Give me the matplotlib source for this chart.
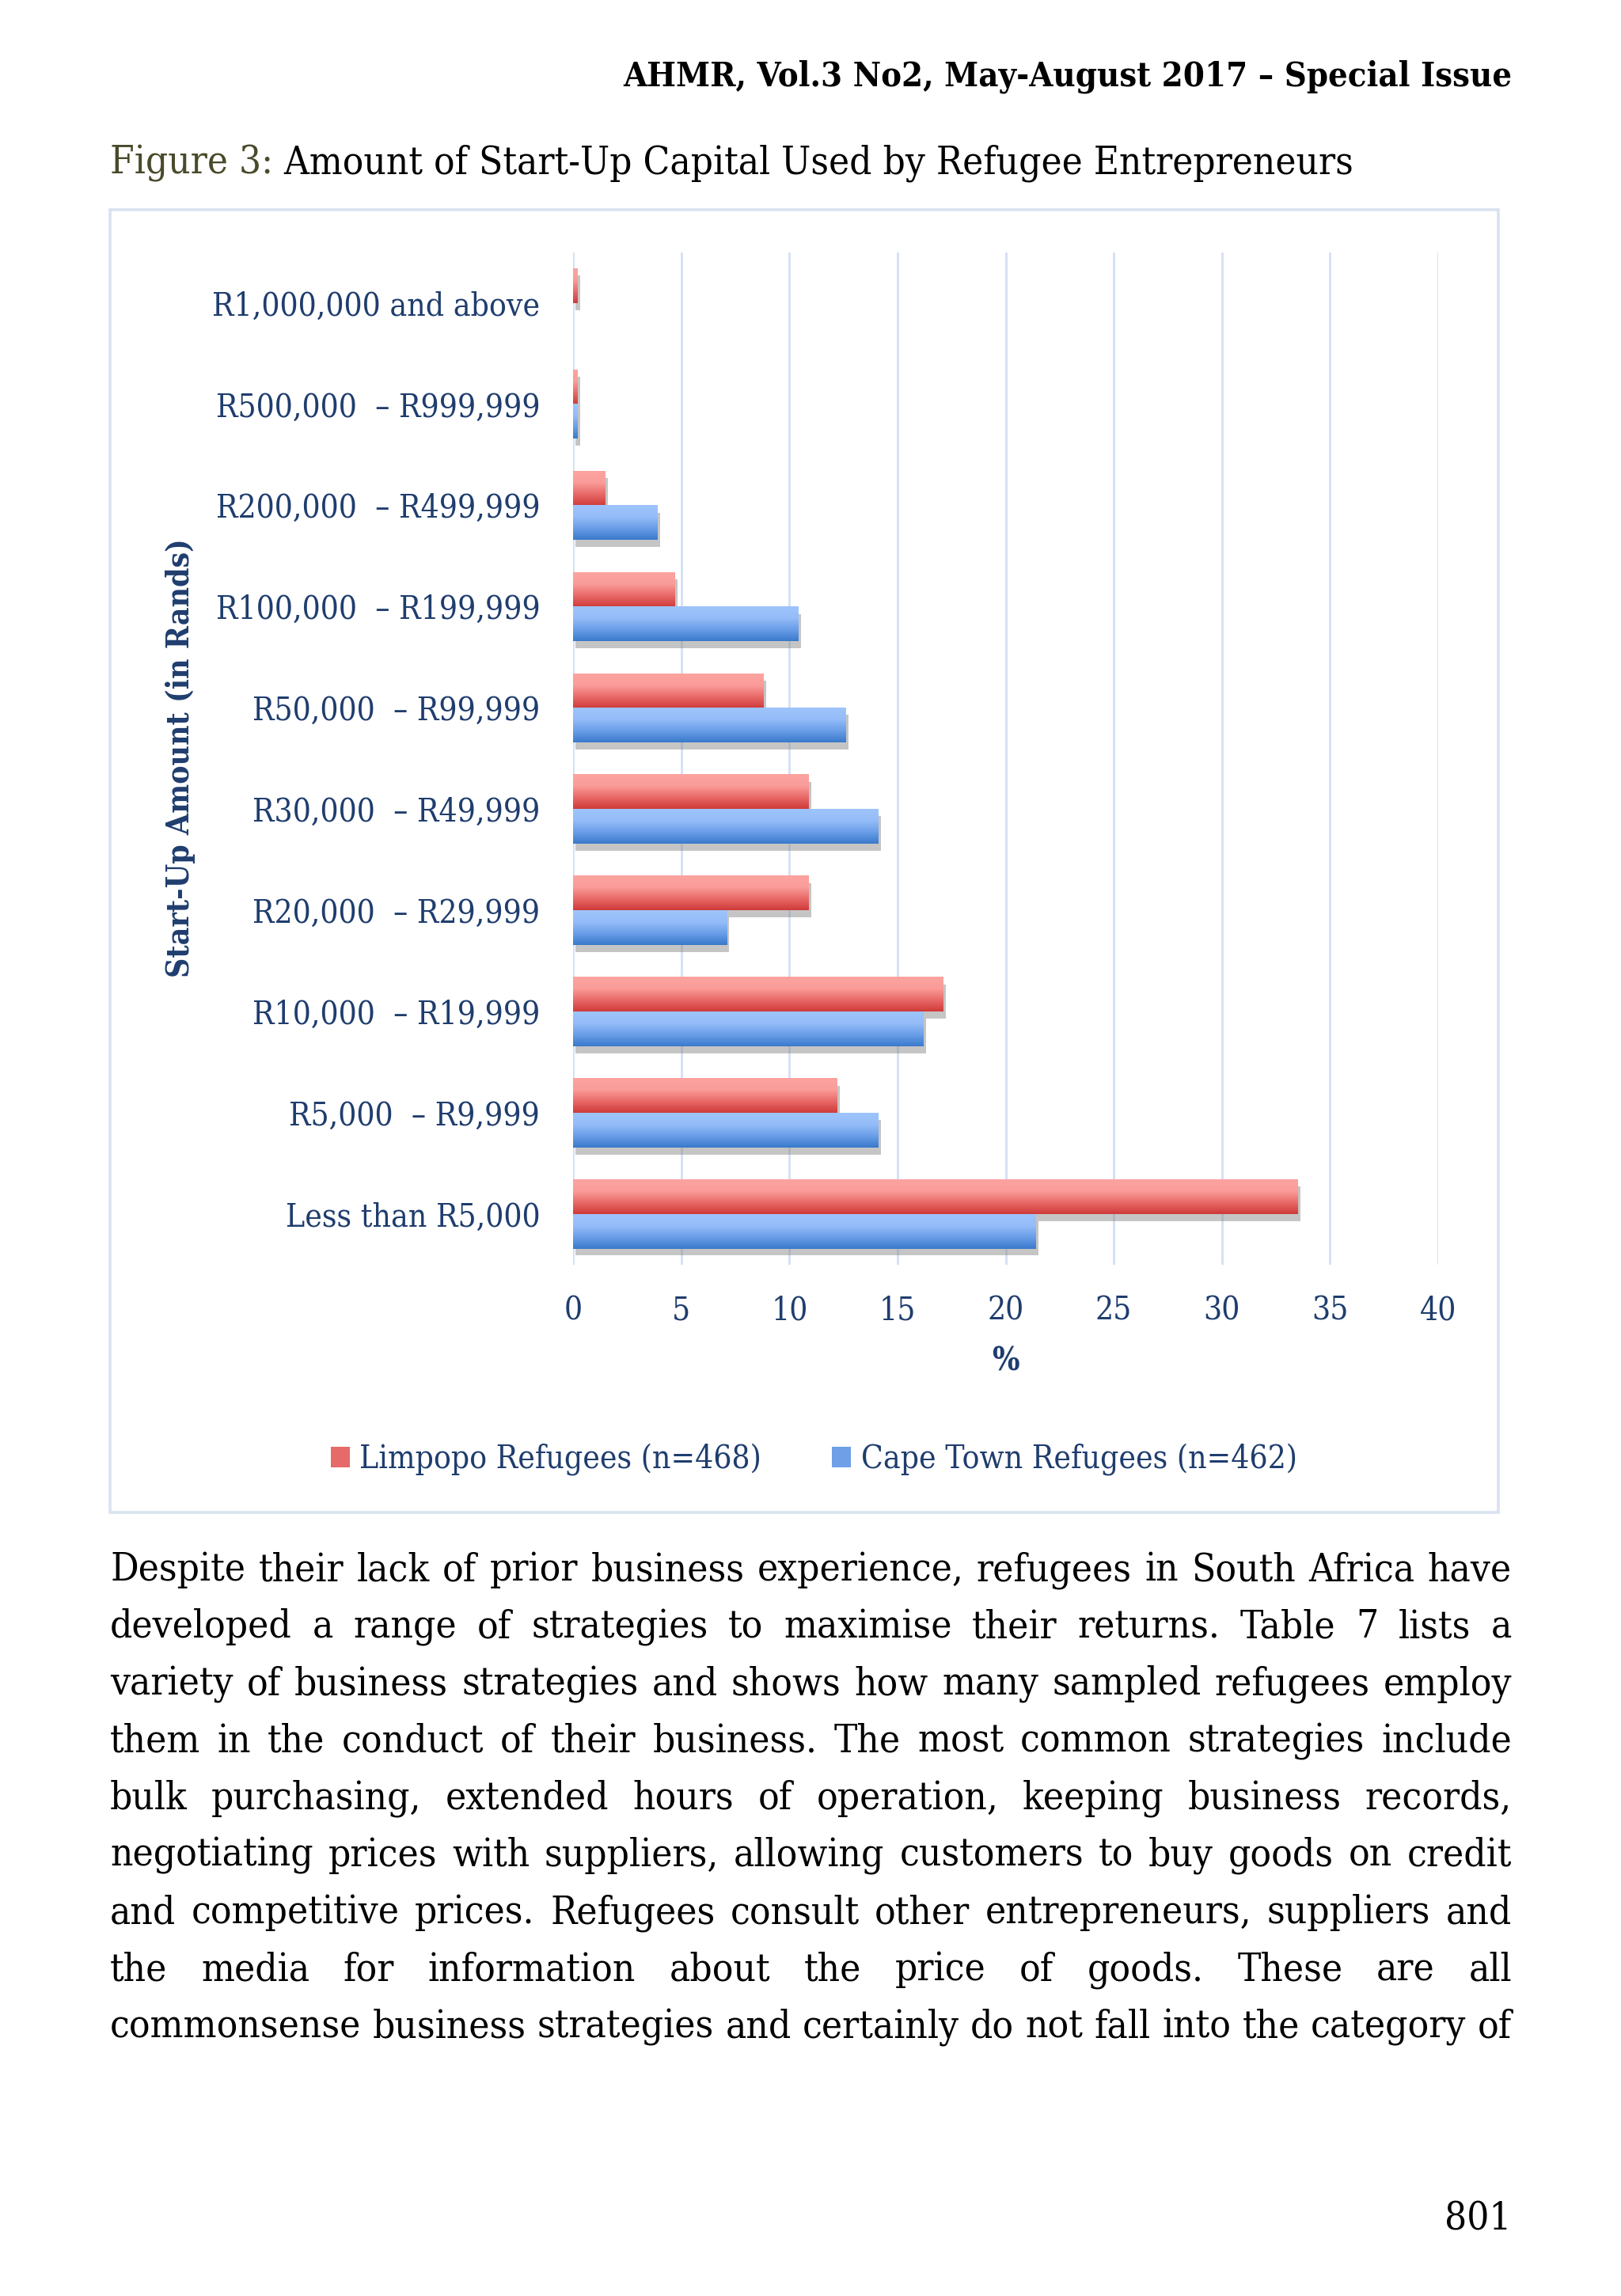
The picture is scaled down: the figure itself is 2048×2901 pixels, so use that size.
import numpy as np
import matplotlib
matplotlib.use("Agg")
import matplotlib.pyplot as plt
from matplotlib import patches
from matplotlib import patheffects as pe
from matplotlib.colors import LinearSegmentedColormap

# data, bottom category first
categories = ["Less than R5,000", "R5,000  – R9,999", "R10,000  – R19,999",
              "R20,000  – R29,999", "R30,000  – R49,999", "R50,000  – R99,999",
              "R100,000  – R199,999", "R200,000  – R499,999",
              "R500,000  – R999,999", "R1,000,000 and above"]
limpopo = [33.5, 12.2, 17.1, 10.9, 10.9, 8.8, 4.7, 1.5, 0.2, 0.2]
cape_town = [21.4, 14.1, 16.2, 7.1, 14.1, 12.6, 10.4, 3.9, 0.2, 0.0]
series_names = ["Limpopo Refugees (n=468)", "Cape Town Refugees (n=462)"]
x_ticks = [0, 5, 10, 15, 20, 25, 30, 35, 40]

header = "AHMR, Vol.3 No2, May-August 2017 – Special Issue"
caption_a = "Figure 3:"
caption_b = " Amount of Start-Up Capital Used by Refugee Entrepreneurs"
body = [
    "Despite their lack of prior business experience, refugees in South Africa have",
    "developed a range of strategies to maximise their returns. Table 7 lists a",
    "variety of business strategies and shows how many sampled refugees employ",
    "them in the conduct of their business. The most common strategies include",
    "bulk purchasing, extended hours of operation, keeping business records,",
    "negotiating prices with suppliers, allowing customers to buy goods on credit",
    "and competitive prices.  Refugees consult other entrepreneurs, suppliers and",
    "the media for information about the price of goods. These are all",
    "commonsense business strategies and certainly do not fall into the category of",
]
page_no = "801"

W, H = 2048, 2901
NAVY = "#1f3d6e"

plt.rcParams['font.family'] = "DejaVu Serif"
plt.rcParams['font.stretch'] = "condensed"
fig = plt.figure(figsize=(W / 200, H / 200), dpi=200)
fig.patch.set_facecolor("white")
rend = fig.canvas.get_renderer()


def fx(px):
    return px / W


def fy(py):
    return 1 - py / H


def text_w(s, size, weight="normal"):
    t = fig.text(0, 0, s, fontsize=size, fontweight=weight)
    w = t.get_window_extent(rend).width
    t.remove()
    return w


def fit(s, target, weight="normal"):
    return 20 * target / text_w(s, 20, weight)


# page texts
hs = fit(header, 1122, "bold")
fig.text(fx(1910), fy(108), header, fontsize=hs, fontweight="bold",
         ha="right", va="baseline", color="black")

cs = fit(caption_a + caption_b, 1570)
fig.text(fx(139), fy(220), caption_a, fontsize=cs, color="#4a4a2c",
         ha="left", va="baseline")
wa = text_w(caption_a, cs)
fig.text(fx(139 + wa), fy(220), caption_b, fontsize=cs, color="black",
         ha="left", va="baseline")

bs = min(fit(l, 1771) for l in body)
for i, line in enumerate(body):
    base = 1997 + 72.2 * i
    words = line.split()
    widths = [text_w(w, bs) for w in words]
    gap = (1771 - sum(widths)) / (len(words) - 1)
    x = 139
    for w, ww in zip(words, widths):
        fig.text(fx(x), fy(base), w, fontsize=bs, ha="left", va="baseline",
                 color="black")
        x += ww + gap

fig.text(fx(1910), fy(2817), page_no, fontsize=bs, ha="right", va="baseline",
         color="black")

# chart frame
fig.add_artist(patches.Rectangle((fx(139), fy(1911)), (1893 - 139) / W,
                                 (1911 - 265) / H, transform=fig.transFigure,
                                 fill=False, edgecolor="#d8e2f0", lw=1.3))

ax = fig.add_axes([fx(724), fy(1598), (1817 - 724) / W, (1598 - 319) / H])
for s in ax.spines.values():
    s.set_visible(False)

ls = fit("R1,000,000 and above", 413)
y = np.arange(len(categories))
bh = 0.34
red_bars = ax.barh(y + bh / 2, limpopo, height=bh, color="#e06060", zorder=2)
blue_bars = ax.barh(y - bh / 2, cape_town, height=bh, color="#6b9be0", zorder=2.2)

red_cm = LinearSegmentedColormap.from_list("r", ["#cf3b3a", "#e86a68", "#fa9c99", "#fca3a0"])
blue_cm = LinearSegmentedColormap.from_list("b", ["#3a7acb", "#6a9ee8", "#94bcf8", "#9ec4fb"])
grad = np.linspace(0, 1, 64).reshape(-1, 1)
shadow = [pe.SimplePatchShadow(offset=(1.2, -3.2), shadow_rgbFace="#8c8c8c", alpha=0.5),
          pe.Normal()]
for bars, cm, z in [(red_bars, red_cm, 2.1), (blue_bars, blue_cm, 2.3)]:
    for p in bars:
        p.set_path_effects(shadow)
        if p.get_width() <= 0:
            continue
        ax.imshow(grad, cmap=cm, origin="lower", aspect="auto", zorder=z,
                  extent=[p.get_x(), p.get_x() + p.get_width(),
                          p.get_y(), p.get_y() + p.get_height()])

ax.set_xlim(0, 40)
ax.set_ylim(-0.5, len(categories) - 0.5)
ax.set_xticks(x_ticks)
ax.set_xticklabels([str(t) for t in x_ticks])
ax.set_yticks(y)
ax.set_yticklabels(categories)
ax.grid(axis="x", color="#d3e0f2", lw=1.0, zorder=0)
ax.grid(axis="y", visible=False)
ax.set_axisbelow(True)
ax.tick_params(axis="both", length=0, labelsize=ls, labelcolor=NAVY)
ax.tick_params(axis="x", pad=14)
ax.tick_params(axis="y", pad=15)

fig.text(fx(1270), fy(1720), "%", fontsize=ls, fontweight="bold", color=NAVY,
         ha="center", va="center")
ys = fit("Start-Up Amount (in Rands)", 555, "bold")
fig.text(fx(228), fy(958), "Start-Up Amount (in Rands)", fontsize=ys,
         fontweight="bold", color=NAVY, rotation=90, ha="center", va="center")

handles = [patches.Patch(facecolor="#e56a68"), patches.Patch(facecolor="#6f9fe6")]
leg = fig.legend(handles, series_names, ncol=2, loc="center",
                 bbox_to_anchor=(0.502, fy(1844)), frameon=False, fontsize=ls,
                 handlelength=0.6, handleheight=0.6, handletextpad=0.3,
                 columnspacing=2.2)
for t in leg.get_texts():
    t.set_color(NAVY)

fig.savefig("out.png", dpi=200, facecolor="white")
